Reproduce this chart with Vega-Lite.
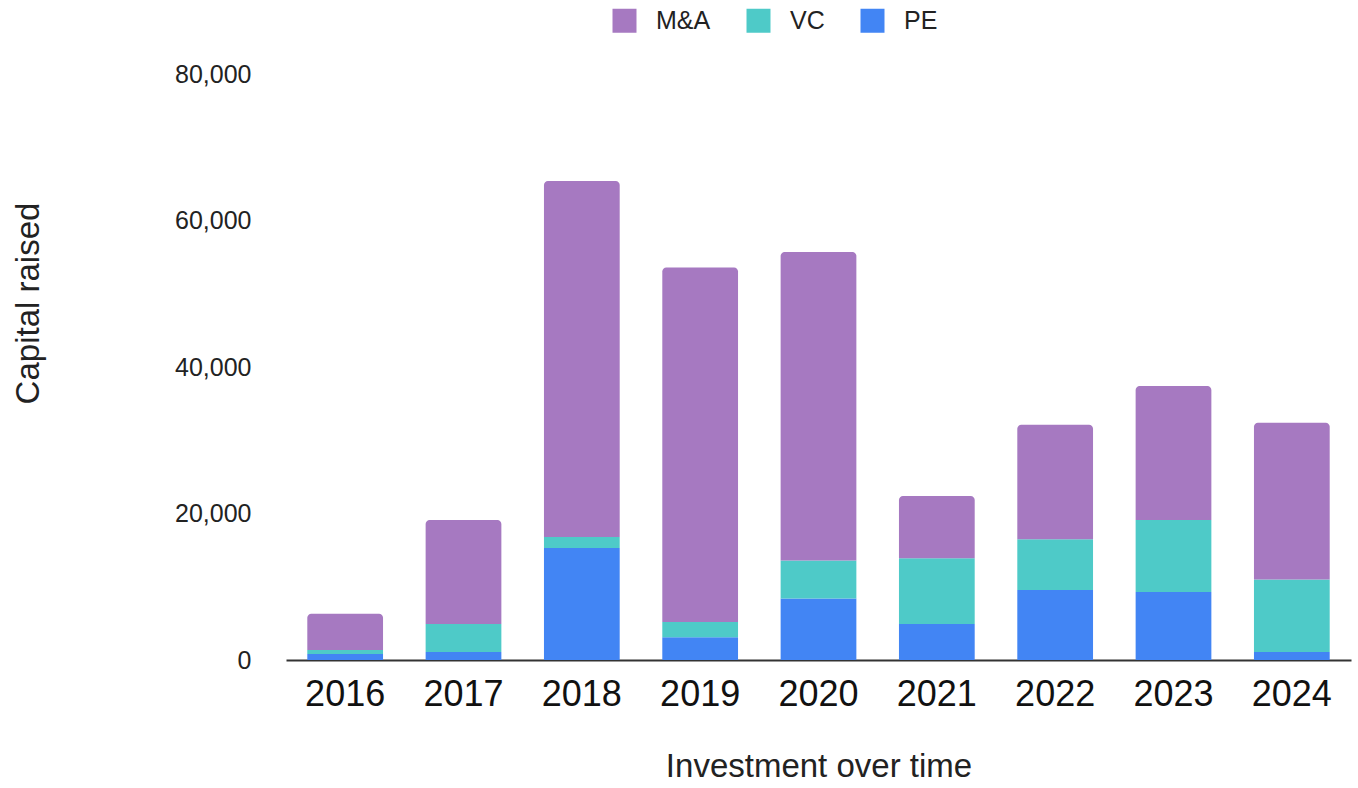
{
  "$schema": "https://vega.github.io/schema/vega-lite/v6.json",
  "width": 1065,
  "height": 586,
  "autosize": {"type": "none"},
  "padding": {"left": 286, "top": 74, "right": 7, "bottom": 128},
  "background": "white",
  "config": {"view": {"stroke": null}, "font": "Liberation Sans"},
  "data": {
    "values": [
      {"year": "2016", "series": "PE", "value": 820},
      {"year": "2016", "series": "VC", "value": 550},
      {"year": "2016", "series": "M&A", "value": 4930},
      {"year": "2017", "series": "PE", "value": 1100},
      {"year": "2017", "series": "VC", "value": 3800},
      {"year": "2017", "series": "M&A", "value": 14200},
      {"year": "2018", "series": "PE", "value": 15300},
      {"year": "2018", "series": "VC", "value": 1500},
      {"year": "2018", "series": "M&A", "value": 48600},
      {"year": "2019", "series": "PE", "value": 3100},
      {"year": "2019", "series": "VC", "value": 2100},
      {"year": "2019", "series": "M&A", "value": 48400},
      {"year": "2020", "series": "PE", "value": 8400},
      {"year": "2020", "series": "VC", "value": 5200},
      {"year": "2020", "series": "M&A", "value": 42100},
      {"year": "2021", "series": "PE", "value": 4900},
      {"year": "2021", "series": "VC", "value": 9000},
      {"year": "2021", "series": "M&A", "value": 8500},
      {"year": "2022", "series": "PE", "value": 9560},
      {"year": "2022", "series": "VC", "value": 6940},
      {"year": "2022", "series": "M&A", "value": 15600},
      {"year": "2023", "series": "PE", "value": 9280},
      {"year": "2023", "series": "VC", "value": 9820},
      {"year": "2023", "series": "M&A", "value": 18300},
      {"year": "2024", "series": "PE", "value": 1090},
      {"year": "2024", "series": "VC", "value": 9910},
      {"year": "2024", "series": "M&A", "value": 21400}
    ]
  },
  "transform": [{"stack": "value", "groupby": ["year"], "as": ["v0", "v1"]}],
  "encoding": {
    "x": {
      "field": "year",
      "type": "ordinal",
      "scale": {"paddingInner": 0.36, "paddingOuter": 0.18},
      "axis": {
        "title": "Investment over time",
        "titleFontSize": 33,
        "titleFontWeight": "normal",
        "titleColor": "#222222",
        "titlePadding": 38,
        "labelFontSize": 36,
        "labelColor": "#111111",
        "labelAngle": 0,
        "labelPadding": 17,
        "ticks": false,
        "domainColor": "#333333",
        "domainWidth": 2
      }
    },
    "y": {
      "field": "v1",
      "type": "quantitative",
      "scale": {"domain": [0, 80000]},
      "axis": {
        "title": "Capital raised",
        "titleFontSize": 33,
        "titleFontWeight": "normal",
        "titleColor": "#222222",
        "titleAngle": -90,
        "titleX": -258,
        "titleY": 229,
        "titleAlign": "center",
        "titleBaseline": "middle",
        "labelFontSize": 25,
        "labelColor": "#222222",
        "format": ",d",
        "values": [0, 20000, 40000, 60000, 80000],
        "grid": false,
        "domain": false,
        "ticks": false,
        "labelPadding": 35
      }
    },
    "y2": {"field": "v0"},
    "color": {
      "field": "series",
      "type": "nominal",
      "scale": {"domain": ["M&A", "VC", "PE"], "range": ["#A679C1", "#4ECAC8", "#4285F4"]},
      "legend": {
        "title": null,
        "orient": "none",
        "direction": "horizontal",
        "legendX": 326,
        "legendY": -66,
        "symbolType": "square",
        "symbolSize": 576,
        "symbolStrokeWidth": 0,
        "symbolOpacity": 1,
        "labelFontSize": 25,
        "labelColor": "#222222",
        "labelOffset": 19,
        "columnPadding": 35
      }
    }
  },
  "layer": [
    {"transform": [{"filter": "datum.series !== 'M&A'"}], "mark": {"type": "bar"}},
    {"transform": [{"filter": "datum.series === 'M&A'"}], "mark": {"type": "bar", "cornerRadiusTopLeft": 4, "cornerRadiusTopRight": 4}}
  ]
}
